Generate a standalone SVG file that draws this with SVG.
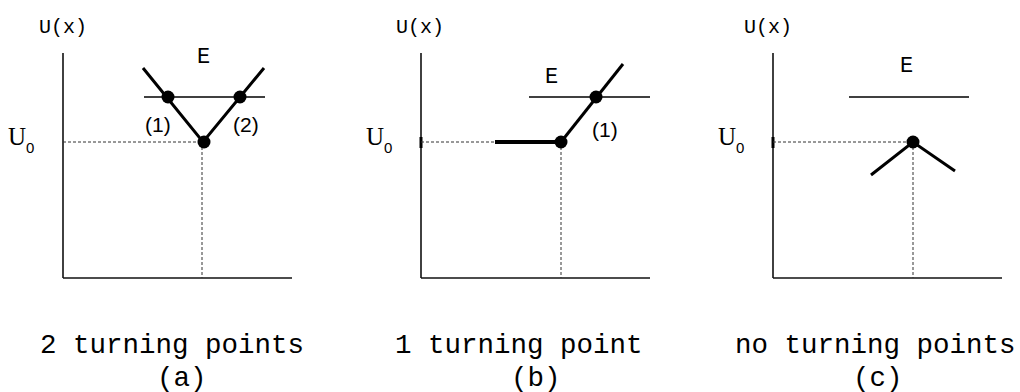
<svg xmlns="http://www.w3.org/2000/svg" width="1020" height="392" viewBox="0 0 1020 392">
<style>
.axis{stroke:#111;stroke-width:1.6;fill:none}
.dash{stroke:#333;stroke-width:1;stroke-dasharray:3 2;fill:none}
.elev{stroke:#000;stroke-width:1.3;fill:none}
.pot{stroke:#000;stroke-width:3;fill:none;stroke-linecap:butt}
.dot{fill:#000}
.mono{font-family:"Liberation Mono","Courier New",monospace;fill:#000}
.serif{font-family:"Liberation Serif","Times New Roman",serif;fill:#000}
.sans{font-family:"Liberation Sans",Arial,sans-serif;fill:#000}
.ux{font-size:20px}
.e{font-size:22px}
.num{font-size:21px}
.u0{font-size:25px}
.sub{font-size:15px}
.cap{font-size:27.5px}
</style>
<rect width="1020" height="392" fill="#fff"/>
<g id="panel-a">
  <text class="mono ux" x="39" y="33">U(x)</text>
  <text class="serif u0" x="8" y="145">U</text>
  <text class="sans sub" x="26" y="153">0</text>
  <line class="axis" x1="63" y1="53" x2="63" y2="278"/>
  <line class="axis" x1="63" y1="278" x2="292" y2="278"/>
  <line class="dash" x1="63" y1="142" x2="203" y2="142"/>
  <line class="dash" x1="202" y1="142" x2="202" y2="278"/>
  <line class="elev" x1="144" y1="97" x2="265" y2="97"/>
  <text class="mono e" x="197" y="63">E</text>
  <polyline class="pot" points="143,68 203,142 264,68"/>
  <circle class="dot" cx="168" cy="97" r="6.5"/>
  <circle class="dot" cx="240" cy="97" r="6.5"/>
  <circle class="dot" cx="204" cy="142" r="6.5"/>
  <text class="sans num" x="145" y="132">(1)</text>
  <text class="sans num" x="233" y="132">(2)</text>
  <text class="mono cap" x="40" y="353">2 turning points</text>
  <text class="mono cap" x="157" y="386">(a)</text>
</g>
<g id="panel-b">
  <text class="mono ux" x="396" y="33">U(x)</text>
  <text class="serif u0" x="366" y="145">U</text>
  <text class="sans sub" x="384" y="153">0</text>
  <line class="axis" x1="421" y1="53" x2="421" y2="278"/>
  <line x1="421" y1="137" x2="421" y2="148" stroke="#000" stroke-width="3"/>
  <line class="axis" x1="421" y1="278" x2="650" y2="278"/>
  <line class="dash" x1="421" y1="142" x2="495" y2="142"/>
  <line class="dash" x1="561" y1="142" x2="561" y2="278"/>
  <line x1="495" y1="142" x2="561" y2="142" stroke="#000" stroke-width="4"/>
  <line class="elev" x1="529" y1="97" x2="650" y2="97"/>
  <text class="mono e" x="545" y="83">E</text>
  <line class="pot" x1="561" y1="142" x2="623" y2="64"/>
  <circle class="dot" cx="561" cy="142" r="6.5"/>
  <circle class="dot" cx="596" cy="97" r="6.5"/>
  <text class="sans num" x="592" y="137">(1)</text>
  <text class="mono cap" x="395" y="353">1 turning point</text>
  <text class="mono cap" x="511" y="386">(b)</text>
</g>
<g id="panel-c">
  <text class="mono ux" x="744" y="33">U(x)</text>
  <text class="serif u0" x="718" y="145">U</text>
  <text class="sans sub" x="736" y="153">0</text>
  <line class="axis" x1="773" y1="53" x2="773" y2="278"/>
  <line x1="773" y1="137" x2="773" y2="148" stroke="#000" stroke-width="3"/>
  <line class="axis" x1="773" y1="278" x2="1002" y2="278"/>
  <line class="dash" x1="773" y1="142" x2="913" y2="142"/>
  <line class="dash" x1="913" y1="142" x2="913" y2="278"/>
  <line class="elev" x1="849" y1="97" x2="969" y2="97"/>
  <text class="mono e" x="900" y="72">E</text>
  <polyline class="pot" points="871,175 913,142 955,171"/>
  <circle class="dot" cx="913" cy="142" r="6.5"/>
  <text class="mono cap" x="735" y="353">no turning points</text>
  <text class="mono cap" x="853" y="386">(c)</text>
</g>
</svg>
